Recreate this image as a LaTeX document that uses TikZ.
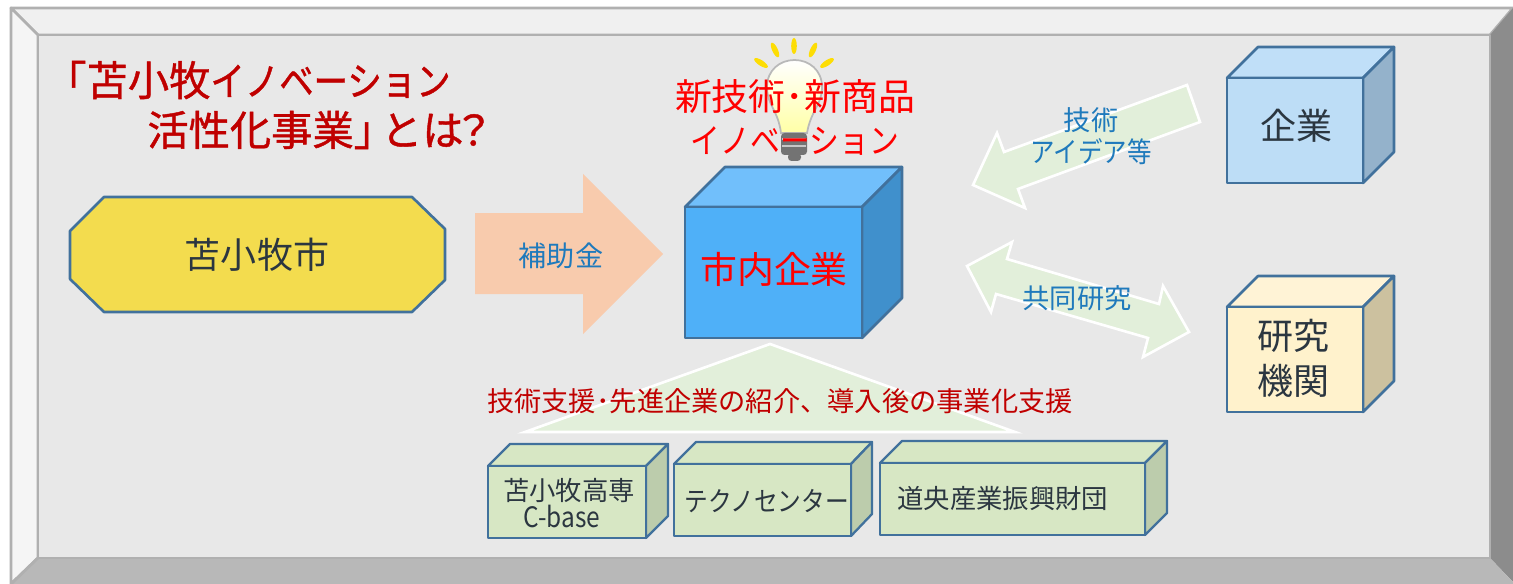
\documentclass[tikz,border=0pt]{standalone}
\usepackage{fontspec}
\newfontfamily\jpfont{Noto Sans CJK JP}
\newfontfamily\jpkana[FakeStretch=0.87]{Noto Sans CJK JP}
\newfontfamily\jptitle[FakeBold=1]{Noto Sans CJK JP}
\newfontfamily\jptitlekana[FakeBold=1,FakeStretch=0.87]{Noto Sans CJK JP}
\definecolor{framefg}{HTML}{B0B0B0}
\definecolor{cubeline}{HTML}{41719C}
\definecolor{darkred}{HTML}{C00000}
\definecolor{bluetxt}{HTML}{1F7ABC}
\definecolor{darktxt}{HTML}{2B3640}
\definecolor{palegreen}{HTML}{E2EFDA}
\definecolor{boxgreen}{HTML}{D7E7C4}
\definecolor{sidegreen}{HTML}{BCCCAC}
\tikzset{
  frameface/.style={draw=framefg,line width=1.6pt,line join=round},
  cube/.style={draw=cubeline,line width=1.5pt,line join=round},
  smallcube/.style={draw=cubeline,line width=1.3pt,line join=round,fill=boxgreen},
  softarrow/.style={draw=white,line width=1.5pt,fill=palegreen},
  ray/.style={fill=yellow!80!orange},
  redbig/.style={text=red,font=\jpfont\fontsize{21}{25}\selectfont,inner sep=0pt},
  darkbig/.style={text=darktxt,font=\jpfont\fontsize{20.5}{25.6}\selectfont,inner sep=0pt,align=center},
  bluemid/.style={text=bluetxt,font=\jpfont\fontsize{15.5}{19}\selectfont,inner sep=0pt},
  boxtxt/.style={text=darktxt,font=\jpfont\fontsize{15}{15}\selectfont,inner sep=0pt},
  titletxt/.style={anchor=west,inner sep=0pt,text=darkred,font=\jptitle\fontsize{23.5}{28}\selectfont},
}
\begin{document}
\begin{tikzpicture}[x=0.02cm,y=-0.02cm]
\useasboundingbox (0,0) rectangle (1513,584);
% bevel frame
\fill[white] (0,0) rectangle (1513,584);
\draw[frameface,fill=gray!12] (11,8)--(1513,8)--(1490,35)--(38,35)--cycle;
\draw[frameface,fill=gray!8] (11,8)--(38,35)--(38,558)--(11,584)--cycle;
\fill[gray!90] (1513,8)--(1513,582)--(1490,558)--(1490,35)--cycle;
\fill[black!28] (11,584)--(38,558)--(1490,558)--(1513,582)--(1513,584)--cycle;
\draw[frameface,fill=gray!18] (38,35) rectangle (1490,558);
\draw[frameface] (38,558)--(11,584);
\draw[frameface] (11,8)--(11,584);
% city
\draw[cube,fill={rgb,255:red,243;green,220;blue,78}] (104,197)--(412,197)--(445,229)--(445,280)--(412,312)--(104,312)--(70,279)--(70,231)--cycle;
\node[darkbig] (city) at (257,255) {苫小牧市};
% subsidy arrow
\fill[fill={rgb,255:red,248;green,203;blue,173}] (475,213)--(583,213)--(583,174)--(663,254)--(583,334)--(583,294)--(475,294)--cycle;
\node[bluemid,font=\jpfont\fontsize{16}{19}\selectfont] (subsidy) at (561,256) {補助金};
% light bulb
\fill[ray] (794,46) ellipse (2.8 and 8);
\fill[ray,shift={(775,50)},rotate=25] (0,0) ellipse (2.8 and 8);
\fill[ray,shift={(813,50)},rotate=-25] (0,0) ellipse (2.8 and 8);
\fill[ray,shift={(761,63)},rotate=57] (0,0) ellipse (2.8 and 8);
\fill[ray,shift={(827,63)},rotate=-57] (0,0) ellipse (2.8 and 8);
\shade[top color=white,middle color=white,bottom color=yellow!35,draw=gray!55,line width=1pt] (781,133) .. controls (778,110) and (767,105) .. (767,87) .. controls (767,70) and (780,60) .. (794.5,60) .. controls (809,60) and (822,70) .. (822,87) .. controls (822,105) and (811,110) .. (807,133) -- cycle;
\fill[gray!90!black,rounded corners=2pt] (781,133) rectangle (807,155);
\fill[gray!90!black,rounded corners=2pt] (788,153) rectangle (801,161);
\draw[gray!45,line width=0.8pt] (782,139)--(806,139);
\draw[gray!45,line width=0.8pt] (782,146)--(806,146);
\node[redbig] (newtech) at (795,97) {新技術･新商品};
\node[redbig,font=\jpkana\fontsize{19.5}{21}\selectfont] (innov) at (795,141) {イノベーション};
% main company
\draw[cube,fill={rgb,255:red,113;green,191;blue,251}] (685,207)--(725,167)--(902,167)--(862,207)--cycle;
\draw[cube,fill={rgb,255:red,64;green,144;blue,204}] (862,207)--(902,167)--(902,298)--(862,338)--cycle;
\draw[cube,fill={rgb,255:red,79;green,176;blue,248}] (685,207) rectangle (862,338);
\node[redbig] (company) at (774,269) {市内企業};
% partner company
\draw[cube,fill={rgb,255:red,192;green,223;blue,248}] (1227,78)--(1258,47)--(1394,47)--(1363,78)--cycle;
\draw[cube,fill={rgb,255:red,148;green,178;blue,203}] (1363,78)--(1394,47)--(1394,152)--(1363,183)--cycle;
\draw[cube,fill={rgb,255:red,189;green,221;blue,246}] (1227,78) rectangle (1363,183);
\node[darkbig] (partner) at (1296,126) {企業};
% institute
\draw[cube,fill={rgb,255:red,255;green,243;blue,214}] (1227,307)--(1258,276)--(1394,276)--(1363,307)--cycle;
\draw[cube,fill={rgb,255:red,204;green,193;blue,159}] (1363,307)--(1394,276)--(1394,381)--(1363,412)--cycle;
\draw[cube,fill={rgb,255:red,255;green,242;blue,204}] (1227,307) rectangle (1363,412);
\node[darkbig] (institute) at (1293,358) {研究\\機関};
% soft arrows
\draw[softarrow] (973,185)--(997,133)--(1004,152)--(1187,85)--(1200,122)--(1018,189)--(1025,208)--cycle;
\node[bluemid,font=\jpfont\fontsize{15.5}{18.5}\selectfont] (techa) at (1091,120) {技術};
\node[bluemid,font=\jpkana\fontsize{16}{18.5}\selectfont] (techb) at (1091,152) {アイデア等};
\draw[softarrow] (967,266)--(1012,242)--(1007,259)--(1159,304)--(1163,286)--(1189,332)--(1143,357)--(1148,338)--(996,294)--(991,312)--cycle;
\node[bluemid] (joint) at (1077,298) {共同研究};
% support
\draw[softarrow] (770,344)--(1015,432)--(525,432)--cycle;
\node[bluemid,text=darkred] (support) at (780,401) {技術支援･先進企業の紹介、導入後の事業化支援};
% support bodies
\draw[smallcube] (488,466)--(510,444)--(668,444)--(646,466)--cycle;
\draw[smallcube,fill=sidegreen] (646,466)--(668,444)--(668,516)--(646,538)--cycle;
\draw[smallcube] (488,466) rectangle (646,538);
\node[boxtxt] (kosen) at (569,491) {苫小牧高専};
\node[boxtxt,font=\jpkana\fontsize{16}{16}\selectfont] (cbase) at (562,516) {C-base};
\draw[smallcube] (674,464)--(696,442)--(872,442)--(851,464)--cycle;
\draw[smallcube,fill=sidegreen] (851,464)--(872,442)--(872,514)--(851,536)--cycle;
\draw[smallcube] (674,464) rectangle (851,536);
\node[boxtxt,anchor=west,font=\jpkana\fontsize{15.5}{16}\selectfont] (techno) at (684,501) {テクノセンター};
\draw[smallcube] (880,463)--(902,441)--(1167,441)--(1145,463)--cycle;
\draw[smallcube,fill=sidegreen] (1145,463)--(1167,441)--(1167,513)--(1145,535)--cycle;
\draw[smallcube] (880,463) rectangle (1145,535);
\node[boxtxt,anchor=west] (found) at (897,498) {道央産業振興財団};
% title
\node[titletxt] (title) at (45,80) {「苫小牧{\jptitlekana\fontsize{22.5}{28}\selectfont イノベーション}};
\node[titletxt] (titleb) at (147,130) {活性化事業」\hspace{-8pt}とは\hspace{-6pt}？};
\end{tikzpicture}
\end{document}
